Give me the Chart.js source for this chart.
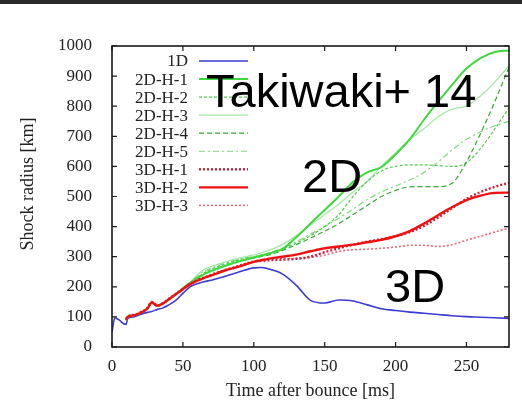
<!DOCTYPE html>
<html>
<head>
<meta charset="utf-8">
<script src="https://cdn.jsdelivr.net/npm/chart.js@4.4.1/dist/chart.umd.min.js"></script>
<style>
  html, body { margin: 0; padding: 0; background: #fff; }
</style>
</head>
<body>
<canvas id="shockChart" width="522" height="406"></canvas>
<script>
// time after bounce [ms]
const time = [0, 2, 5, 8, 10, 11, 15, 20, 25, 28, 32, 36, 40, 45, 50, 55, 60, 65, 70, 80, 90,
              100, 105, 110, 120, 130, 140, 150, 160, 170, 180, 190, 200, 210, 220, 230, 240, 250, 260, 270, 280];

// shock radius [km]
const r1D = [50, 97, 90, 78, 75, 95, 100, 108, 115, 118, 125, 130, 140, 155, 178, 200, 210, 217, 222, 235, 250,
             263, 264, 260, 243, 205, 155, 146, 156, 153, 140, 127, 121, 116, 112, 108, 104, 101, 99, 97, 95];
const r2DH1 = [null, null, null, null, 90, 100, 105, 113, 128, 146, 137, 145, 158, 176, 195, 212, 228, 242, 252, 270, 285,
               297, 303, 310, 325, 365, 410, 455, 500, 548, 580, 598, 640, 690, 755, 815, 872, 925, 960, 980, 985];
const r2DH2 = [null, null, null, null, 90, 100, 105, 113, 128, 146, 137, 145, 158, 176, 195, 213, 230, 246, 258, 276, 290,
               300, 305, 310, 325, 345, 370, 400, 440, 500, 550, 585, 600, 605, 605, 603, 600, 612, 660, 725, 795];
const r2DH3 = [null, null, null, null, 90, 100, 105, 113, 128, 146, 137, 145, 158, 177, 197, 216, 238, 258, 268, 283, 296,
               306, 312, 320, 340, 370, 405, 440, 475, 515, 550, 600, 645, 690, 725, 765, 790, 800, 835, 880, 935];
const r2DH4 = [null, null, null, null, 90, 100, 105, 113, 128, 146, 137, 145, 158, 176, 195, 212, 229, 243, 253, 271, 285,
               295, 300, 305, 320, 340, 362, 385, 410, 440, 470, 500, 520, 532, 533, 533, 545, 615, 710, 815, 930];
const r2DH5 = [null, null, null, null, 90, 100, 105, 113, 128, 146, 137, 145, 158, 177, 196, 214, 234, 252, 262, 279, 292,
               300, 305, 312, 328, 350, 375, 400, 428, 458, 490, 515, 535, 555, 580, 615, 655, 690, 715, 735, 750];
const r3DH1 = [null, null, null, null, 92, 101, 106, 115, 130, 150, 138, 146, 160, 176, 193, 210, 222, 231, 240, 256, 270,
               284, 286, 288, 290, 293, 300, 315, 328, 340, 350, 358, 368, 382, 402, 430, 462, 492, 515, 532, 546];
const r3DH2 = [null, null, null, null, 90, 100, 105, 113, 128, 148, 137, 145, 158, 175, 192, 208, 220, 230, 238, 255, 268,
               283, 288, 293, 300, 307, 318, 328, 334, 340, 348, 356, 368, 385, 410, 438, 465, 488, 503, 512, 513];
const r3DH3 = [null, null, null, null, 91, 100, 104, 112, 127, 146, 136, 144, 157, 174, 191, 207, 219, 229, 238, 254, 268,
               283, 288, 292, 294, 294, 298, 305, 318, 323, 325, 328, 332, 338, 338, 334, 340, 355, 368, 382, 395];

const xTicks = [0, 50, 100, 150, 200, 250];
const yTicks = [0, 100, 200, 300, 400, 500, 600, 700, 800, 900, 1000];

const SERIF = "'Liberation Serif', 'DejaVu Serif', serif";
const SANS = "'Liberation Sans', Arial, sans-serif";

function pts(values) {
    return time.map((t, i) => ({ x: t, y: values[i] })).filter(p => p.y !== null);
}

function series(label, values, color, width, dash, order) {
    return {
        label: label,
        data: pts(values),
        borderColor: color,
        borderWidth: width,
        borderDash: dash,
        pointRadius: 0,
        fill: false,
        cubicInterpolationMode: "monotone",
        order: order
    };
}

const datasets = [
    series("1D", r1D, "#3b3bd6", 1.6, [], 9),
    series("2D-H-1", r2DH1, "#3fd83f", 2, [], 4),
    series("2D-H-2", r2DH2, "#4ccc4c", 1.2, [3, 2], 6),
    series("2D-H-3", r2DH3, "#a6e8a6", 1.3, [], 8),
    series("2D-H-4", r2DH4, "#36a836", 1.2, [5, 3], 5),
    series("2D-H-5", r2DH5, "#7fd87f", 1.2, [6, 3, 2, 3], 7),
    series("3D-H-1", r3DH1, "#d0203c", 2.4, [2, 2], 2),
    series("3D-H-2", r3DH2, "#ee1111", 2.4, [], 1),
    series("3D-H-3", r3DH3, "#ee6677", 1.6, [2, 2], 3)
];

// frame, inward ticks, key, axis titles and captions
const decorations = {
    id: "decorations",
    beforeDraw(chart) {
        const ctx = chart.ctx;
        ctx.save();
        ctx.fillStyle = "#fff";
        ctx.fillRect(0, 0, chart.width, chart.height);
        ctx.fillStyle = "#2a2a2a";
        ctx.fillRect(0, 0, chart.width, 4);
        ctx.restore();
    },
    afterDatasetsDraw(chart) {
        const ctx = chart.ctx;
        const a = chart.chartArea;
        const xs = chart.scales.x, ys = chart.scales.y;
        ctx.save();

        // box and ticks
        ctx.strokeStyle = "#1a1a1a";
        ctx.lineWidth = 1.6;
        ctx.strokeRect(a.left, a.top, a.right - a.left, a.bottom - a.top);
        ctx.lineWidth = 1.2;
        ctx.beginPath();
        xTicks.forEach(v => {
            const px = xs.getPixelForValue(v);
            ctx.moveTo(px, a.bottom); ctx.lineTo(px, a.bottom - 5);
            ctx.moveTo(px, a.top); ctx.lineTo(px, a.top + 5);
        });
        yTicks.forEach(v => {
            const py = ys.getPixelForValue(v);
            ctx.moveTo(a.left, py); ctx.lineTo(a.left + 5, py);
            ctx.moveTo(a.right, py); ctx.lineTo(a.right - 5, py);
        });
        ctx.stroke();

        // key
        ctx.font = "17px " + SERIF;
        ctx.textAlign = "right";
        ctx.textBaseline = "middle";
        chart.data.datasets.forEach((ds, i) => {
            const y = 61 + i * 18.05;
            ctx.fillStyle = "#222";
            ctx.fillText(ds.label, 188, y + 1);
            ctx.strokeStyle = ds.borderColor;
            ctx.lineWidth = ds.borderWidth;
            ctx.setLineDash(ds.borderDash);
            ctx.beginPath();
            ctx.moveTo(199, y);
            ctx.lineTo(248, y);
            ctx.stroke();
            ctx.setLineDash([]);
        });

        // captions
        ctx.fillStyle = "#000";
        ctx.font = "47px " + SANS;
        ctx.textAlign = "left";
        ctx.textBaseline = "alphabetic";
        ctx.fillText("Takiwaki+ 14", 206, 107);
        ctx.fillText("2D", 302, 192);
        ctx.fillText("3D", 385, 302);

        // axis titles
        ctx.fillStyle = "#222";
        ctx.font = "18px " + SERIF;
        ctx.textAlign = "center";
        ctx.textBaseline = "middle";
        ctx.fillText("Time after bounce [ms]", (a.left + a.right) / 2, 391);
        ctx.translate(28, 184);
        ctx.rotate(-Math.PI / 2);
        ctx.fillText("Shock radius [km]", 0, 0);
        ctx.restore();
    }
};

new Chart(document.getElementById("shockChart"), {
    type: "line",
    data: { datasets: datasets },
    options: {
        responsive: false,
        animation: false,
        layout: { padding: { top: 46, right: 13, left: 0, bottom: 0 } },
        plugins: {
            legend: { display: false },
            tooltip: { enabled: false }
        },
        scales: {
            x: {
                type: "linear",
                min: 0,
                max: 280,
                grid: { display: false },
                border: { display: false },
                ticks: {
                    padding: 1,
                    color: "#222",
                    font: { family: SERIF, size: 17 },
                    callback: v => String(v)
                },
                afterBuildTicks: s => { s.ticks = xTicks.map(v => ({ value: v })); },
                afterFit: s => { s.height = 59; }
            },
            y: {
                min: 0,
                max: 1000,
                grid: { display: false },
                border: { display: false },
                ticks: {
                    padding: 12,
                    color: "#222",
                    font: { family: SERIF, size: 17 },
                    callback: v => String(v)
                },
                afterBuildTicks: s => { s.ticks = yTicks.map(v => ({ value: v })); },
                afterFit: s => { s.width = 112; }
            }
        }
    },
    plugins: [decorations]
});
</script>
</body>
</html>
